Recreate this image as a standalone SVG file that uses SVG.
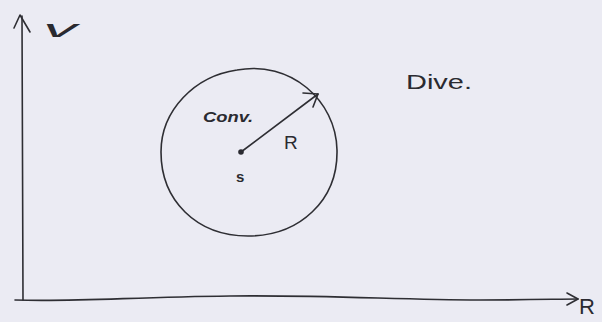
<svg xmlns="http://www.w3.org/2000/svg" width="602" height="322" viewBox="0 0 602 322">
<style>
.ln{fill:none;stroke:#2e2e33;stroke-width:1.6;stroke-linecap:round;stroke-linejoin:round}
.tx{font-family:"Liberation Sans","DejaVu Sans",sans-serif;fill:#2a2a30}
</style>
<rect width="602" height="322" fill="#ebebf3"/>
<g id="connectors">
<path class="ln" d="M22,16 C22.5,100 23,200 23,300"/>
<path class="ln" d="M14,28 L20,15 L30,32"/>
<path class="ln" d="M15,300 C80,302 130,297 230,296 C330,295 400,300 480,300 C530,300 560,299 578,299"/>
<path class="ln" d="M567,293 L578,299 L567,305"/>
<path class="ln" d="M241,152 L318,94"/>
<path class="ln" d="M303,93 L318,94 L313,107"/>
</g>
<g id="circle">
<path class="ln" d="M237,70 C290,60 336,100 337,150 C338,200 300,236 248,236 C196,236 161,200 161,152 C161,110 195,76 237,70 Z"/>
<circle cx="241" cy="152" r="2.8" fill="#2a2a30"/>
</g>
<g id="label-v"><text class="tx" x="43" y="37" font-size="24" font-style="italic" textLength="34" lengthAdjust="spacingAndGlyphs">v</text></g>
<g id="label-conv"><text class="tx" x="203" y="122" font-size="15" font-style="italic" font-weight="bold" textLength="50" lengthAdjust="spacingAndGlyphs">Conv.</text></g>
<g id="label-R-arrow"><text class="tx" x="284" y="149" font-size="19">R</text></g>
<g id="label-s"><text class="tx" x="236" y="182" font-size="15" font-weight="bold">s</text></g>
<g id="label-dive"><text class="tx" x="406" y="89" font-size="21" textLength="66" lengthAdjust="spacingAndGlyphs">Dive.</text></g>
<g id="label-R-axis"><text class="tx" x="579" y="314" font-size="22">R</text></g>
</svg>
